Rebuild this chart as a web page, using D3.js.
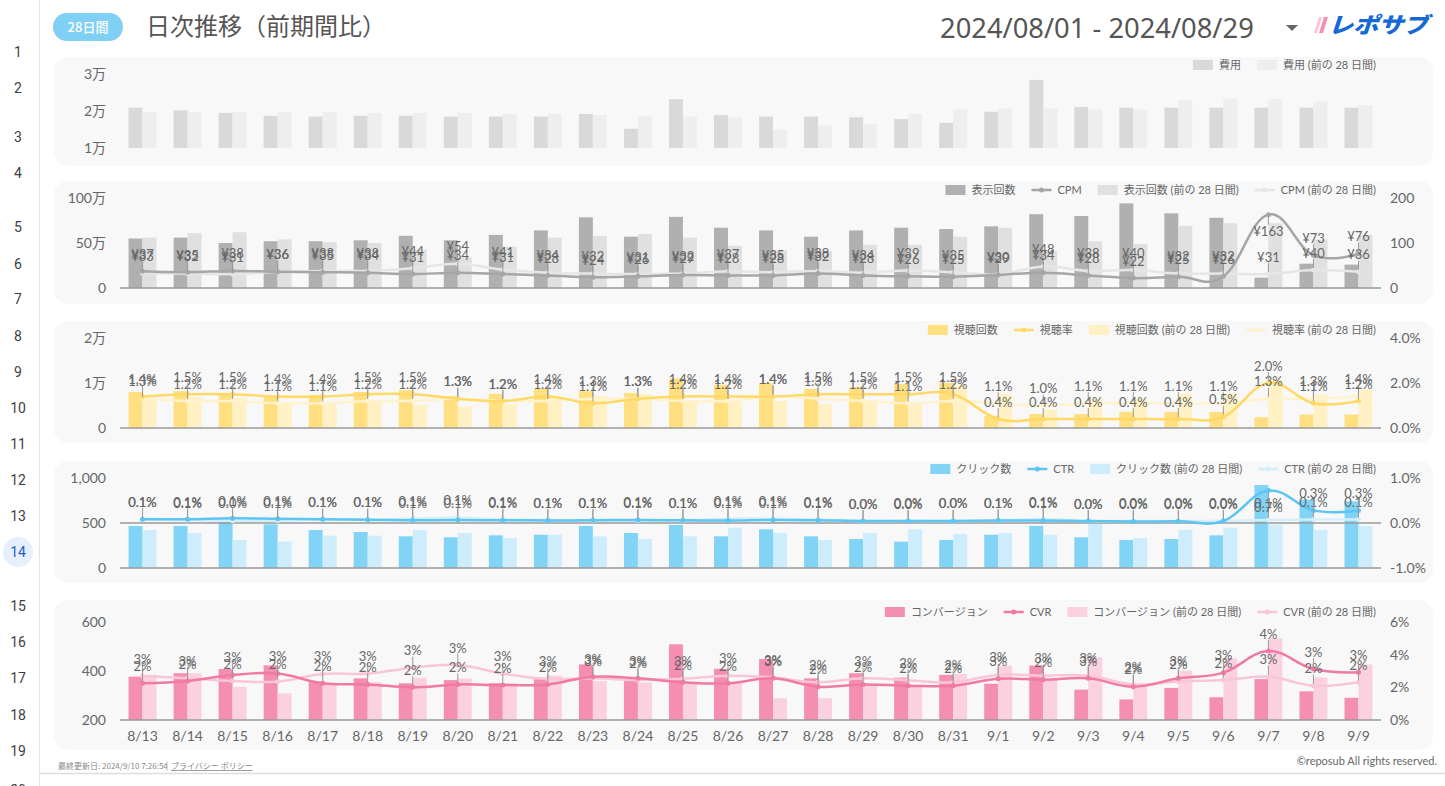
<!DOCTYPE html>
<html><head><meta charset="utf-8">
<script src="https://cdn.jsdelivr.net/npm/d3@7"></script>
<style>body{margin:0;background:#fff;}svg{display:block;}</style>
</head><body><svg id="c" width="1445" height="786"></svg>
<script>
// ---------------- DATA ----------------
const dates = ["8/13","8/14","8/15","8/16","8/17","8/18","8/19","8/20","8/21","8/22","8/23","8/24","8/25","8/26","8/27","8/28","8/29","8/30","8/31","9/1","9/2","9/3","9/4","9/5","9/6","9/7","9/8","9/9"];

const costCur  = [20900,20200,19500,18700,18500,18700,18700,18500,18500,18500,19200,15200,23200,18900,18500,18500,18300,17800,16800,19800,28400,21100,20900,20900,20900,20900,20900,20900];
const costPrev = [19800,19800,19700,19700,19700,19500,19500,19500,19200,19200,18900,18600,18500,18300,14900,16100,16600,19200,20400,20600,20600,20400,20400,23000,23400,23200,22500,21600];

const imprCur  = [550000,560000,500000,520000,520000,530000,580000,530000,590000,640000,785000,570000,790000,670000,640000,570000,640000,670000,655000,685000,820000,800000,940000,830000,780000,115000,270000,260000];
const imprPrev = [560000,610000,620000,540000,510000,500000,430000,340000,460000,560000,580000,600000,560000,470000,420000,410000,480000,480000,570000,670000,410000,520000,490000,690000,720000,720000,540000,590000];
const cpmCur   = [37,35,38,36,35,34,31,34,31,28,24,26,29,28,28,32,28,26,25,29,34,28,22,25,26,163,73,76];
const cpmPrev  = [33,32,31,36,38,38,44,54,41,34,32,31,32,37,35,38,34,39,35,30,48,38,40,32,32,31,40,36];

const viewsCur  = [8000,8200,7600,6900,7300,8000,8400,7100,7600,8700,8200,7800,11000,9600,10000,8700,9100,9800,10000,2700,3100,3100,3600,3600,3600,2400,3000,3000];
const viewsPrev = [6700,6900,6700,5600,5800,6000,5100,4700,5300,6700,7100,7600,5800,5800,6000,5300,5800,5800,9500,7600,4100,6400,6400,7600,7600,10900,7400,8500];
const vrCur  = [1.4,1.5,1.5,1.4,1.4,1.5,1.5,1.3,1.2,1.4,1.1,1.3,1.4,1.4,1.4,1.5,1.5,1.5,1.5,0.4,0.4,0.4,0.4,0.4,0.5,2.0,1.1,1.2];
const vrPrev = [1.3,1.2,1.2,1.1,1.1,1.2,1.2,1.3,1.2,1.2,1.3,1.3,1.2,1.2,1.4,1.3,1.2,1.1,1.2,1.1,1.0,1.1,1.1,1.1,1.1,1.3,1.3,1.4];

const clicksCur  = [467,467,522,485,422,400,352,341,363,370,467,389,478,352,430,352,322,293,311,370,467,341,311,322,363,922,759,741];
const clicksPrev = [422,389,311,293,359,359,422,389,333,370,352,322,352,448,389,311,389,430,378,389,370,489,333,425,448,481,425,467];
const ctrCur  = [0.085,0.083,0.104,0.093,0.081,0.075,0.061,0.064,0.062,0.058,0.06,0.068,0.06,0.053,0.067,0.062,0.045,0.044,0.047,0.054,0.057,0.043,0.035,0.039,0.045,0.72,0.28,0.28];
const ctrPrev = [0.075,0.064,0.048,0.054,0.07,0.072,0.098,0.114,0.072,0.066,0.061,0.054,0.063,0.095,0.093,0.076,0.045,0.048,0.046,0.058,0.09,0.043,0.047,0.046,0.049,0.067,0.079,0.079];

const cvCur  = [377,391,408,423,356,370,350,363,350,367,427,359,509,409,449,370,391,373,384,348,422,324,284,331,293,367,317,291];
const cvPrev = [384,391,335,309,350,354,373,370,350,381,359,353,350,350,289,289,346,336,388,422,363,456,343,401,452,533,374,427];
const cvrCur  = [2.25,2.39,2.76,2.84,2.25,2.18,2.0,2.18,2.14,2.18,2.65,2.55,2.31,2.25,2.55,2.04,2.18,2.1,2.1,2.52,2.47,2.55,2.04,2.55,2.9,4.22,3.12,2.92];
const cvrPrev = [2.69,2.55,2.39,2.35,2.82,2.84,3.2,3.37,2.84,2.52,2.55,2.45,2.52,2.71,2.6,2.31,2.55,2.43,2.31,2.76,2.71,2.71,2.18,2.35,2.45,2.65,2.1,2.31];

// tick values / labels
const p1Ticks = [10000,20000,30000], p1Labels = ["1万","2万","3万"];
const p2Ticks = [0,500000,1000000], p2Labels = ["0","50万","100万"];
const p2RTicks = [0,100,200], p2RLabels = ["0","100","200"];
const p3Ticks = [0,10000,20000], p3Labels = ["0","1万","2万"];
const p3RTicks = [0,2,4], p3RLabels = ["0.0%","2.0%","4.0%"];
const p4Ticks = [0,500,1000], p4Labels = ["0","500","1,000"];
const p4RTicks = [-1,0,1], p4RLabels = ["-1.0%","0.0%","1.0%"];
const p5Ticks = [200,400,600], p5Labels = ["200","400","600"];
const p5RTicks = [0,2,4,6], p5RLabels = ["0%","2%","4%","6%"];

// ---------------- DRAW ----------------
const FONT = "Lato, 'Noto Sans CJK JP', sans-serif";
const JFONT = "'Noto Sans CJK JP', sans-serif";
const svg = d3.select('#c');
const X0 = 120, X1 = 1381;
const x = d3.scaleBand().domain(dates).range([X0, X1]).paddingInner(0.38).paddingOuter(0.19);
const xs = d3.scaleBand().domain(['cur','prev']).range([0, x.bandwidth()]);
const cx = d => x(d) + x.bandwidth()/2;

// gutter
svg.append('line').attr('x1',39.5).attr('x2',39.5).attr('y1',0).attr('y2',786).attr('stroke','#e3e3e3');
const rowY = [52,88,137,173,227,264,299,336,372,408,444,480,516,552,606,642,678,715,751,790];
svg.append('circle').attr('cx',18).attr('cy',552).attr('r',15).attr('fill','#e6effc');
rowY.forEach((yy,i)=>{
  svg.append('text').attr('x',18).attr('y',yy).attr('dy','0.35em').attr('text-anchor','middle')
    .attr('font-family','Roboto, sans-serif').attr('font-size',14)
    .attr('fill', i===13 ? '#1a5fc8' : '#3c4043').text(i+1);
});

// header
svg.append('rect').attr('x',53).attr('y',13).attr('width',70).attr('height',28).attr('rx',14).attr('fill','#7fd0f4');
svg.append('text').attr('x',88).attr('y',27).attr('dy','0.35em').attr('text-anchor','middle')
  .attr('font-family',JFONT).attr('font-size',13).attr('font-weight',500).attr('fill','#fff').text('28日間');
svg.append('text').attr('x',146).attr('y',27).attr('dy','0.35em')
  .attr('font-family',JFONT).attr('font-size',24).attr('fill','#555').text('日次推移（前期間比）');
const dt = svg.append('text').attr('x',940).attr('y',28).attr('dy','0.35em')
  .attr('font-family',"'Noto Sans', sans-serif").attr('font-size',26).attr('fill','#555').text('2024/08/01 - 2024/08/29');
{ const w = dt.node().getComputedTextLength(); dt.attr('font-size', 26*314/w); }
svg.append('path').attr('d','M1286,25 L1298,25 L1292,31 Z').attr('fill','#666');
// logo
svg.append('polygon').attr('points','1314,33 1319,17 1322,17 1317,33').attr('fill','#f9c6d8');
svg.append('polygon').attr('points','1319,33 1324,17 1328,17 1323,33').attr('fill','#f48fb1');
svg.append('text').attr('transform','translate(1328,33) skewX(-18)').attr('x',0).attr('y',0)
  .attr('font-family',JFONT).attr('font-size',22).attr('font-weight',900).attr('fill','#1668d4')
  .attr('textLength',100).attr('lengthAdjust','spacingAndGlyphs').text('レポサブ');

function styleAxis(a, size){
  a.select('.domain').remove();
  a.selectAll('text').attr('font-family',FONT).attr('font-size',size||14).attr('fill','#666');
}

function legend(g, items, yc, endX){
  const fs = 11;
  const widths = items.map(it=>{
    const t = g.append('text').attr('font-family',FONT).attr('font-size',fs).text(it.label);
    const w = t.node().getComputedTextLength(); t.remove(); return w;
  });
  const sym = 20, gap1 = 6, gap2 = 16;
  const total = widths.reduce((a,w)=>a+sym+gap1+w,0) + gap2*(items.length-1);
  let xx = endX - total;
  items.forEach((it,i)=>{
    if(it.type==='rect'){
      g.append('rect').attr('x',xx).attr('y',yc-5).attr('width',sym).attr('height',10).attr('fill',it.color);
    } else {
      g.append('line').attr('x1',xx).attr('x2',xx+sym).attr('y1',yc).attr('y2',yc).attr('stroke',it.color).attr('stroke-width',2.5);
      g.append('circle').attr('cx',xx+sym/2).attr('cy',yc).attr('r',2.5).attr('fill',it.color);
    }
    g.append('text').attr('x',xx+sym+gap1).attr('y',yc).attr('dy','0.35em')
      .attr('font-family',FONT).attr('font-size',fs).attr('fill','#666').text(it.label);
    xx += sym+gap1+widths[i]+gap2;
  });
}

function drawPanel(p){
  const g = svg.append('g');
  g.append('rect').attr('x',54).attr('y',p.top).attr('width',1379).attr('height',p.h).attr('rx',14).attr('fill','#f8f8f8');
  const y = d3.scaleLinear().domain(p.yDomain).range(p.yRange);
  const la = g.append('g').attr('transform',`translate(${X0},0)`)
    .call(d3.axisLeft(y).tickValues(p.yTicks).tickFormat((d,i)=>p.yLabels[i]).tickSize(0).tickPadding(14));
  styleAxis(la);
  let r = null;
  if(p.rDomain){
    r = d3.scaleLinear().domain(p.rDomain).range(p.yRange);
    const ra = g.append('g').attr('transform',`translate(${X1},0)`)
      .call(d3.axisRight(r).tickValues(p.rTicks).tickFormat((d,i)=>p.rLabels[i]).tickSize(0).tickPadding(9));
    styleAxis(ra);
  }
  const base = y(p.yDomain[0]);
  [['cur',p.barsCur,p.barColors[0]],['prev',p.barsPrev,p.barColors[1]]].forEach(([k,vals,col])=>{
    g.append('g').selectAll('rect').data(vals).join('rect')
      .attr('x',(v,i)=>x(dates[i])+xs(k)).attr('width',xs.bandwidth())
      .attr('y',v=>y(v)).attr('height',v=>base-y(v)).attr('fill',col);
  });
  if(p.baseline){
    g.append('line').attr('x1',X0).attr('x2',X1).attr('y1',base).attr('y2',base).attr('stroke','#9a9a9a').attr('stroke-width',1.5);
  }
  if(p.zeroLine){
    g.append('line').attr('x1',X0).attr('x2',X1).attr('y1',r(0)).attr('y2',r(0)).attr('stroke','#9a9a9a').attr('stroke-width',1.5);
  }
  if(p.lineCur){
    const lg = d3.line().x((v,i)=>cx(dates[i])).y(v=>r(v)).curve(d3.curveCardinal.tension(-0.2));
    [[p.linePrev,p.lineColors[1]],[p.lineCur,p.lineColors[0]]].forEach(([vals,col])=>{
      g.append('path').datum(vals).attr('d',lg).attr('fill','none').attr('stroke',col).attr('stroke-width',2.5);
      g.append('g').selectAll('circle').data(vals).join('circle')
        .attr('cx',(v,i)=>cx(dates[i])).attr('cy',v=>r(v)).attr('r',2.5).attr('fill',col);
    });
    const top = p.yRange[1];
    const lblG = g.append('g');
    [p.linePrev,p.lineCur].forEach(vals=>{
      vals.forEach((v,i)=>{
        const px = cx(dates[i]), py = r(v);
        const above = !(py - 17 < top + 3);
        const ly = above ? py - 17 : py + 17;
        if(above){
          lblG.append('line').attr('x1',px).attr('x2',px).attr('y1',ly+6).attr('y2',py-2).attr('stroke','#999').attr('stroke-width',1);
        } else {
          lblG.append('line').attr('x1',px).attr('x2',px).attr('y1',py+2).attr('y2',ly-7).attr('stroke','#999').attr('stroke-width',1);
        }
        lblG.append('text').attr('x',px).attr('y',ly).attr('dy','0.35em').attr('text-anchor','middle')
          .attr('font-family',FONT).attr('font-size',13).attr('fill','#666').text(p.fmt(v));
      });
    });
  }
  legend(g, p.legend, p.legendY, 1376);
  return {g,y};
}

drawPanel({top:57,h:109,yDomain:[10000,30000],yRange:[148,74],yTicks:p1Ticks,yLabels:p1Labels,
  barsCur:costCur,barsPrev:costPrev,barColors:['#d9d9d9','#eeeeee'],baseline:false,
  legend:[{type:'rect',color:'#d9d9d9',label:'費用'},{type:'rect',color:'#eeeeee',label:'費用 (前の 28 日間)'}],legendY:65});

drawPanel({top:181,h:123,yDomain:[0,1000000],yRange:[288,198],yTicks:p2Ticks,yLabels:p2Labels,
  rDomain:[0,200],rTicks:p2RTicks,rLabels:p2RLabels,
  barsCur:imprCur,barsPrev:imprPrev,barColors:['#b0b0b0','#e0e0e0'],baseline:true,
  lineCur:cpmCur,linePrev:cpmPrev,lineColors:['#a6a6a6','#e6e6e6'],fmt:v=>'¥'+v,
  legend:[{type:'rect',color:'#b0b0b0',label:'表示回数'},{type:'line',color:'#a6a6a6',label:'CPM'},
          {type:'rect',color:'#e0e0e0',label:'表示回数 (前の 28 日間)'},{type:'line',color:'#e6e6e6',label:'CPM (前の 28 日間)'}],legendY:190});

drawPanel({top:321,h:122,yDomain:[0,20000],yRange:[428,338],yTicks:p3Ticks,yLabels:p3Labels,
  rDomain:[0,4],rTicks:p3RTicks,rLabels:p3RLabels,
  barsCur:viewsCur,barsPrev:viewsPrev,barColors:['#ffdf80','#fff1c4'],baseline:true,
  lineCur:vrCur,linePrev:vrPrev,lineColors:['#ffd966','#fff2cc'],fmt:v=>v.toFixed(1)+'%',
  legend:[{type:'rect',color:'#ffdf80',label:'視聴回数'},{type:'line',color:'#ffd966',label:'視聴率'},
          {type:'rect',color:'#fff1c4',label:'視聴回数 (前の 28 日間)'},{type:'line',color:'#fff2cc',label:'視聴率 (前の 28 日間)'}],legendY:330});

drawPanel({top:461,h:122,yDomain:[0,1000],yRange:[568,478],yTicks:p4Ticks,yLabels:p4Labels,
  rDomain:[-1,1],rTicks:p4RTicks,rLabels:p4RLabels,
  barsCur:clicksCur,barsPrev:clicksPrev,barColors:['#82d4f7','#cdedfc'],baseline:true,zeroLine:true,
  lineCur:ctrCur,linePrev:ctrPrev,lineColors:['#5cc5f3','#d3effc'],fmt:v=>v.toFixed(1)+'%',
  legend:[{type:'rect',color:'#82d4f7',label:'クリック数'},{type:'line',color:'#5cc5f3',label:'CTR'},
          {type:'rect',color:'#cdedfc',label:'クリック数 (前の 28 日間)'},{type:'line',color:'#d3effc',label:'CTR (前の 28 日間)'}],legendY:469});

const p5 = drawPanel({top:600,h:150,yDomain:[200,600],yRange:[720,622],yTicks:p5Ticks,yLabels:p5Labels,
  rDomain:[0,6],rTicks:p5RTicks,rLabels:p5RLabels,
  barsCur:cvCur,barsPrev:cvPrev,barColors:['#f48fb1','#fbd1e0'],baseline:true,
  lineCur:cvrCur,linePrev:cvrPrev,lineColors:['#f07aa5','#f9c6d8'],fmt:v=>Math.round(v)+'%',
  legend:[{type:'rect',color:'#f48fb1',label:'コンバージョン'},{type:'line',color:'#f07aa5',label:'CVR'},
          {type:'rect',color:'#fbd1e0',label:'コンバージョン (前の 28 日間)'},{type:'line',color:'#f9c6d8',label:'CVR (前の 28 日間)'}],legendY:612});

const xa = p5.g.append('g').attr('transform','translate(0,720)').call(d3.axisBottom(x).tickSize(0).tickPadding(11));
styleAxis(xa, 14);

// footer
svg.append('line').attr('x1',40).attr('x2',1445).attr('y1',773.5).attr('y2',773.5).attr('stroke','#dddddd').attr('stroke-width',1.5);
svg.append('text').attr('x',58).attr('y',769).attr('font-family',JFONT).attr('font-size',8).attr('fill','#888').text('最終更新日: 2024/9/10 7:26:54');
svg.append('text').attr('x',166).attr('y',769).attr('font-family',JFONT).attr('font-size',9).attr('fill','#bbb').text('|');
svg.append('text').attr('x',171).attr('y',769).attr('font-family',JFONT).attr('font-size',8).attr('fill','#888')
  .attr('text-decoration','underline').text('プライバシー ポリシー');
svg.append('text').attr('x',1437).attr('y',761).attr('dy','0.35em').attr('text-anchor','end')
  .attr('font-family',FONT).attr('font-size',11).attr('fill','#666').text('©reposub All rights reserved.');
</script></body></html>
